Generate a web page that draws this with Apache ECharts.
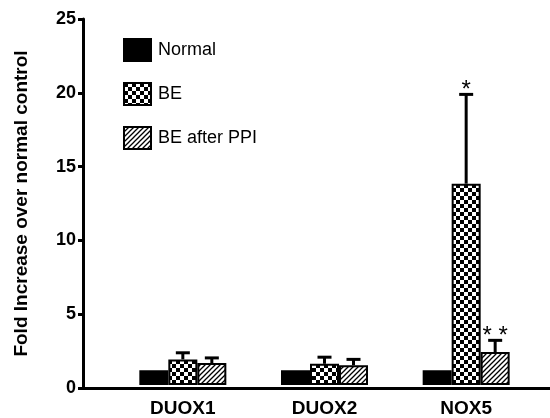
<!DOCTYPE html>
<html>
<head>
<meta charset="utf-8">
<script src="https://cdn.jsdelivr.net/npm/echarts@6/dist/echarts.min.js"></script>
<style>
  html, body { margin: 0; padding: 0; background: #fff; }
  #chart { width: 550px; height: 418px; }
</style>
</head>
<body>
<div id="chart"></div>
<script>
// 数据
var categories = ['DUOX1', 'DUOX2', 'NOX5'];
var seriesNames = ['Normal', 'BE', 'BE after PPI'];
var normalMean = [1.0, 1.0, 1.0];
var beMean = [1.75, 1.45, 13.75];
var beSem = [0.45, 0.45, 6.1];
var ppiMean = [1.5, 1.35, 2.25];
var ppiSem = [0.35, 0.4, 0.8];
var beStars = ['', '', '*'];
var ppiStars = ['', '', '* *'];
var yTicks = [0, 5, 10, 15, 20, 25];

var FONT = '"Liberation Sans", Arial, sans-serif';
var BAR_W = 29;

// 棋盘格填充
function checkerPattern() {
    var c = document.createElement('canvas');
    c.width = 8; c.height = 8;
    var ctx = c.getContext('2d');
    ctx.fillStyle = '#fff';
    ctx.fillRect(0, 0, 8, 8);
    ctx.fillStyle = '#000';
    ctx.fillRect(0, 0, 4, 4);
    ctx.fillRect(4, 4, 4, 4);
    return { image: c, repeat: 'repeat' };
}

// 斜线填充
function hatchPattern() {
    var c = document.createElement('canvas');
    c.width = 5; c.height = 5;
    var ctx = c.getContext('2d');
    ctx.fillStyle = '#fff';
    ctx.fillRect(0, 0, 5, 5);
    ctx.strokeStyle = '#000';
    ctx.lineWidth = 1.3;
    ctx.beginPath();
    ctx.moveTo(-1, 6); ctx.lineTo(6, -1);
    ctx.moveTo(-1, 1); ctx.lineTo(1, -1);
    ctx.moveTo(4, 6); ctx.lineTo(6, 4);
    ctx.stroke();
    return { image: c, repeat: 'repeat' };
}

var chart = echarts.init(document.getElementById('chart'));

function errData(mean, sem, stars) {
    return mean.map(function (m, i) { return [i, m, m + sem[i], stars[i]]; });
}

// 误差线 + 星号
function errSeries(idx, mean, sem, stars) {
    return {
        type: 'custom',
        xAxisIndex: 0,
        yAxisIndex: 0,
        z: 5,
        silent: true,
        data: errData(mean, sem, stars),
        renderItem: function (params, api) {
            var top = api.coord([api.value(0), api.value(1)]);
            var cap = api.coord([api.value(0), api.value(2)]);
            var x = top[0] + (idx - 1) * BAR_W;
            var children = [
                { type: 'line', shape: { x1: x, y1: top[1], x2: x, y2: cap[1] },
                  style: { stroke: '#000', lineWidth: 3 } },
                { type: 'line', shape: { x1: x - 7, y1: cap[1], x2: x + 7, y2: cap[1] },
                  style: { stroke: '#000', lineWidth: 3 } }
            ];
            var star = api.value(3);
            if (star) {
                children.push({
                    type: 'text',
                    style: { text: star, x: x, y: cap[1] + 8, align: 'center', verticalAlign: 'bottom',
                             font: '24px ' + FONT, fill: '#000' }
                });
            }
            return { type: 'group', children: children };
        }
    };
}

var option = {
    animation: false,
    backgroundColor: '#fff',
    grid: [
        { left: 112, right: 13, top: 19, bottom: 30 },
        { left: 83, right: 0, top: 19, bottom: 30 }
    ],
    legend: {
        orient: 'vertical',
        left: 118,
        top: 33,
        itemWidth: 27,
        itemHeight: 22,
        itemGap: 20,
        icon: 'rect',
        textStyle: { fontSize: 18, color: '#000', fontFamily: FONT, padding: [0, 0, 0, 2] },
        data: seriesNames
    },
    xAxis: [
        {
            type: 'category',
            gridIndex: 0,
            data: categories,
            axisLine: { show: false },
            axisTick: { show: false },
            axisLabel: { color: '#000', fontSize: 19, fontWeight: 'bold', fontFamily: FONT, margin: 14 }
        },
        {
            type: 'value',
            gridIndex: 1,
            min: 0, max: 1,
            axisLine: { show: true, lineStyle: { color: '#000', width: 3 } },
            axisTick: { show: false },
            axisLabel: { show: false },
            splitLine: { show: false }
        }
    ],
    yAxis: [
        {
            type: 'value',
            gridIndex: 0,
            min: yTicks[0], max: yTicks[yTicks.length - 1], interval: 5,
            show: false,
            splitLine: { show: false }
        },
        {
            type: 'value',
            gridIndex: 1,
            min: yTicks[0], max: yTicks[yTicks.length - 1], interval: 5,
            name: 'Fold Increase over normal control',
            nameLocation: 'middle',
            nameGap: 52,
            nameTextStyle: { color: '#000', fontSize: 19, fontWeight: 'bold', fontFamily: FONT },
            axisLine: { show: true, lineStyle: { color: '#000', width: 3 } },
            axisTick: { show: true, length: 5, lineStyle: { color: '#000', width: 3 } },
            axisLabel: { color: '#000', fontSize: 18, fontWeight: 'bold', fontFamily: FONT, margin: 7 },
            splitLine: { show: false }
        }
    ],
    series: [
        {
            name: seriesNames[0], type: 'bar', barWidth: BAR_W, barGap: '0%',
            itemStyle: { color: '#000', borderColor: '#000', borderWidth: 2 },
            data: normalMean
        },
        {
            name: seriesNames[1], type: 'bar', barWidth: BAR_W, barGap: '0%',
            itemStyle: { color: checkerPattern(), borderColor: '#000', borderWidth: 2 },
            data: beMean
        },
        {
            name: seriesNames[2], type: 'bar', barWidth: BAR_W, barGap: '0%',
            itemStyle: { color: hatchPattern(), borderColor: '#000', borderWidth: 2 },
            data: ppiMean
        },
        errSeries(1, beMean, beSem, beStars),
        errSeries(2, ppiMean, ppiSem, ppiStars)
    ]
};

chart.setOption(option);
</script>
</body>
</html>
